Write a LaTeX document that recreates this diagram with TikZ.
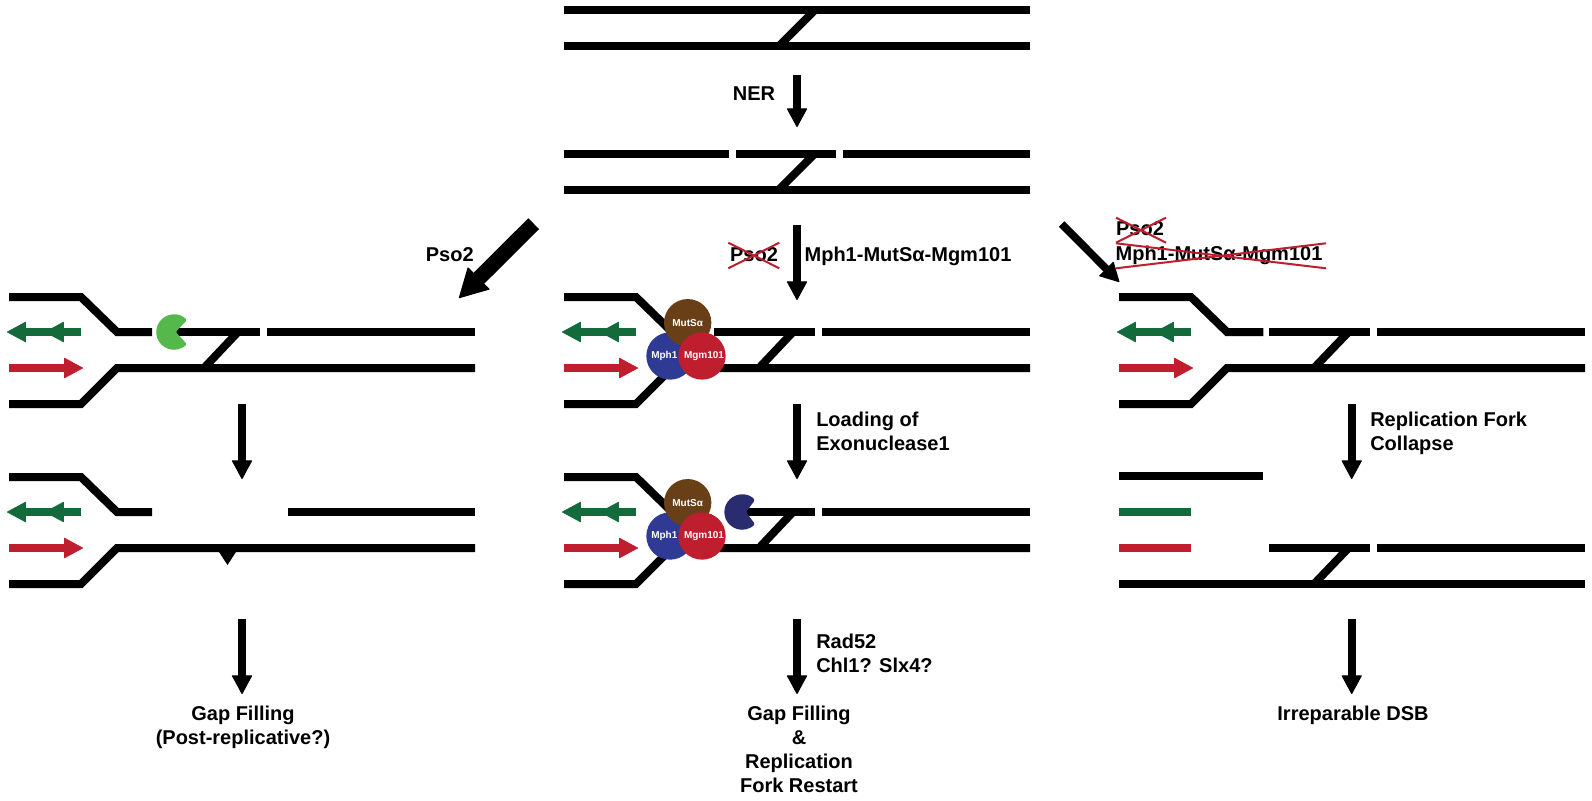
\documentclass[tikz,border=0pt]{standalone}
\usepackage{fontspec}
\setmainfont{Liberation Sans}
\usetikzlibrary{arrows.meta}
\definecolor{fgreen}{HTML}{136B3C}
\definecolor{fred}{HTML}{BE1E2D}
\definecolor{pbrown}{HTML}{693F17}
\definecolor{pblue}{HTML}{2E3A94}
\definecolor{pgreen}{HTML}{55B84A}
\definecolor{pnavy}{HTML}{2B2C70}
\tikzset{
  strand/.style={line width=6pt,black,line join=miter},
  flow/.style={line width=5.8pt,black,-{Triangle[length=14.5pt,width=15.5pt,round,line width=.8pt]}},
  bigflow/.style={line width=11.5pt,black,-{Triangle[length=21.5pt,width=23.5pt,round,line width=.8pt]}},
  tipgreen/.style={line width=6pt,fgreen,-{Triangle[length=14.5pt,width=15.5pt,round,line width=.6pt]}},
  tipred/.style={line width=6pt,fred,-{Triangle[length=14.5pt,width=15.5pt,round,line width=.6pt]}},
  plaingreen/.style={line width=6pt,fgreen},
  plainred/.style={line width=6pt,fred},
  lbl/.style={font=\bfseries\fontsize{15}{18}\selectfont,inner sep=0pt,text height=10.8pt,text depth=0pt},
  lbln/.style={font=\bfseries\fontsize{15}{18}\selectfont,inner sep=0pt,align=left,anchor=north west},
  lblc/.style={font=\bfseries\fontsize{15}{18}\selectfont,inner sep=0pt,align=center,anchor=north},
  cross/.style={line width=1.5pt,fred},
  prot/.style={circle,minimum size=35.5pt,inner sep=0pt,text=white,font=\bfseries\fontsize{7.5}{9}\selectfont},
}
% upper parental arm ending at x=#1, lower arm running on to the right end
\newcommand\forkTop[1]{%
  \draw[strand] (9,297) -- (81,297) -- (117,332) -- (#1,332);
  \draw[strand] (9,404) -- (81,404) -- (117,368) -- (475,368);
}
\newcommand\forkArrows[1]{%
  \coordinate (#1gs) at (81,332);
  \coordinate (#1gt) at (7,332);
  \coordinate (#1gm) at (45,332);
  \coordinate (#1rs) at (9,368);
  \coordinate (#1rt) at (83,368);
  \draw[tipgreen] (#1gs) -- (#1gm);
  \draw[tipgreen] (#1gs) -- (#1gt);
  \draw[tipred] (#1rs) -- (#1rt);
}
\begin{document}
\begin{tikzpicture}[x=0.75pt,y=-0.75pt]
\useasboundingbox (0,0) rectangle (1592,800);
% ---------- top duplexes
\draw[strand] (564,10) -- (1030,10);
\draw[strand] (564,46) -- (1030,46);
\draw[strand] (815,10) -- (779,46);
\draw[strand] (564,153.5) -- (729,153.5);
\draw[strand] (736,153.5) -- (836,153.5);
\draw[strand] (843,153.5) -- (1030,153.5);
\draw[strand] (564,189.5) -- (1030,189.5);
\draw[strand] (815,153.5) -- (779,189.5);
% ---------- arrows, centre column
\coordinate (a1s) at (797,75);  \coordinate (a1t) at (797,127);
\coordinate (a2s) at (797,225); \coordinate (a2t) at (797,300);
\coordinate (a3s) at (797,404); \coordinate (a3t) at (797,479);
\coordinate (a4s) at (797,619); \coordinate (a4t) at (797,694);
\draw[flow] (a1s) -- (a1t);
\draw[flow] (a2s) -- (a2t);
\draw[flow] (a3s) -- (a3t);
\draw[flow] (a4s) -- (a4t);
% ---------- left column
\begin{scope}
  \forkTop{152}
  \draw[strand] (176,332) -- (260,332);
  \draw[strand] (267,332) -- (475,332);
  \draw[strand] (238,332) -- (204,368);
  \forkArrows{l1}
  \fill[pgreen,rounded corners=1pt] (175.7,332) -- ++(11.2,-12) arc[start angle=-43,end angle=-317,radius=17.7] -- cycle;
\end{scope}
\begin{scope}[yshift=-135pt]
  \forkTop{152}
  \draw[strand] (288,332) -- (475,332);
  \fill[black] (219,372) -- (236,372) -- (227.5,385) -- cycle;
  \forkArrows{l2}
\end{scope}
\coordinate (b1s) at (242,404); \coordinate (b1t) at (242,479);
\coordinate (b2s) at (242,619); \coordinate (b2t) at (242,694);
\draw[flow] (b1s) -- (b1t);
\draw[flow] (b2s) -- (b2t);
% ---------- centre column forks
\begin{scope}[xshift=416.25pt]
  \forkTop{125}
  \draw[strand] (159,332) -- (260,332);
  \draw[strand] (267,332) -- (475,332);
  \draw[strand] (238,332) -- (204,368);
  \forkArrows{c1}
  \node[prot,fill=pblue] (mph1a) at (115,356) {\hspace*{-8.5pt}Mph1};
  \node[prot,fill=pbrown] (mutsa) at (132.7,322.7) {MutSα};
  \node[prot,fill=fred] (mgma) at (147,356) {\hspace*{3pt}Mgm101};
\end{scope}
\begin{scope}[xshift=416.25pt,yshift=-135pt]
  \forkTop{125}
  \draw[strand] (191,332) -- (260,332);
  \draw[strand] (267,332) -- (475,332);
  \draw[strand] (238,332) -- (204,368);
  \forkArrows{c2}
  \node[prot,fill=pblue] (mph1b) at (115,356) {\hspace*{-8.5pt}Mph1};
  \node[prot,fill=pbrown] (mutsb) at (132.7,322.7) {MutSα};
  \node[prot,fill=fred] (mgmb) at (147,356) {\hspace*{3pt}Mgm101};
  \fill[pnavy,rounded corners=1pt] (191,332) -- ++(9,-12) arc[start angle=-43,end angle=-317,radius=17.7] -- cycle;
\end{scope}
% ---------- right column
\begin{scope}[xshift=832.5pt]
  \forkTop{153.3}
  \draw[strand] (159,332) -- (259.7,332);
  \draw[strand] (266.7,332) -- (475,332);
  \draw[strand] (238.5,332) -- (204,368);
  \forkArrows{r1}
  % collapsed
  \draw[strand] (9,476) -- (153.3,476);
  \draw[plaingreen] (9,512) -- (81,512);
  \draw[plainred] (9,548) -- (81,548);
  \draw[strand] (159,548) -- (259.7,548);
  \draw[strand] (266.7,548) -- (475,548);
  \draw[strand] (9,584) -- (475,584);
  \draw[strand] (238.5,548) -- (204,584);
\end{scope}
\coordinate (d1s) at (1351.7,404); \coordinate (d1t) at (1351.7,479);
\coordinate (d2s) at (1351.7,619); \coordinate (d2t) at (1351.7,694);
\draw[flow] (d1s) -- (d1t);
\draw[flow] (d2s) -- (d2t);
% ---------- diagonal arrows
\coordinate (e1s) at (533.7,223.7); \coordinate (e1t) at (459,298);
\coordinate (e2s) at (1061.7,224); \coordinate (e2t) at (1119.3,282);
\draw[bigflow] (e1s) -- (e1t);
\draw[flow] (e2s) -- (e2t);
% ---------- labels
\node[lbl] (ner) at (754,93) {NER};
\node[lbl] (pso2c) at (754,254) {Pso2};
\node[lbl] (mmmc) at (908,254) {Mph1-MutSα-Mgm101};
\node[lbl] (pso2l) at (449.8,254) {Pso2};
\node[lbl] (pso2r) at (1140,228) {Pso2};
\node[lbl] (mmmr) at (1219,253) {Mph1-MutSα-Mgm101};
\node[lbln] (load) at (816,412) {Loading of\\Exonuclease1};
\node[lbln] (coll) at (1370,412) {Replication Fork\\Collapse};
\node[lbln] (rad) at (816,634) {Rad52\\Chl1? Slx4?};
\node[lblc] (gfc) at (799,706) {Gap Filling\\\&\\Replication\\Fork Restart};
\node[lblc] (gfl) at (243,706) {Gap Filling\\(Post-replicative?)};
\node[lbl] (dsb) at (1353,713) {Irreparable DSB};
% ---------- crossings
\draw[cross] (728.3,242.7) -- (779.3,268.3);
\draw[cross] (728.3,268.3) -- (779.3,242.7);
\draw[cross] (1116,217.7) -- (1166,242.7);
\draw[cross] (1116,242.7) -- (1166,217.7);
\draw[cross] (1116,268.3) -- (1326,243.3);
\draw[cross] (1116,243.3) -- (1326,268.3);
\end{tikzpicture}
\end{document}
